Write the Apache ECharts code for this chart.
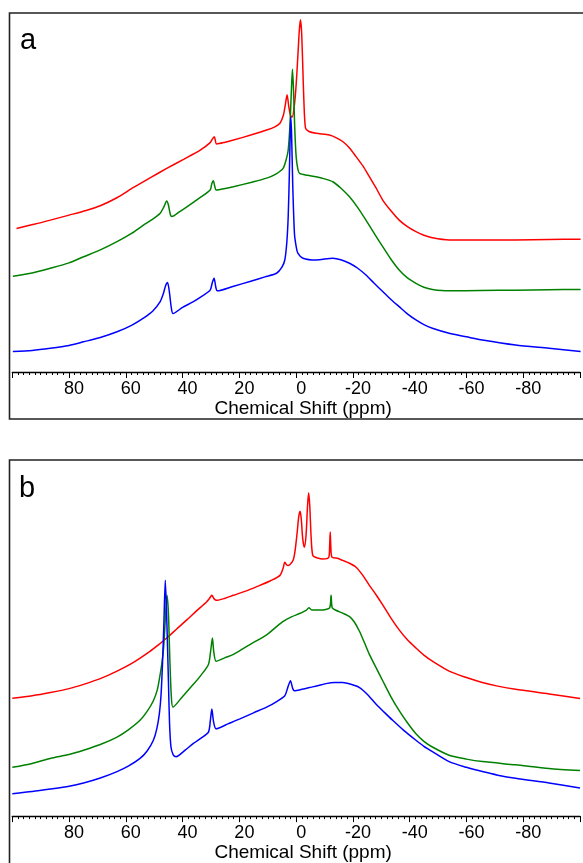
<!DOCTYPE html>
<html>
<head>
<meta charset="utf-8">
<script src="https://cdn.jsdelivr.net/npm/echarts@6/dist/echarts.min.js"></script>
<style>
  html, body { margin: 0; padding: 0; background: #fff; }
  #chart { width: 583px; height: 863px; }
</style>
</head>
<body>
<div id="chart"></div>
<script>
// Chemical shift (ppm) vs intensity (arbitrary units, 0-100 panel height)
const axisTitle = 'Chemical Shift (ppm)';
const panelLabels = ['a', 'b'];
const seriesColors = ['#ff0000', '#008000', '#0000ff'];

// Panel a
const redA = [[98.5,40.0],[92,41.2],[86.6,42.3],[80,43.7],[74,45.0],[69,46.3],[63,48.6],[57.3,51.4],[51,54.3],[45.6,56.7],[39.5,59.3],[33.8,61.8],[30.3,63.9],[29.4,65.0],[28.8,65.5],[28.0,63.5],[25,64.0],[22.1,64.6],[16,66.0],[10.4,67.4],[7.5,68.3],[5.7,69.3],[4.5,71.5],[3.8,74.5],[3.2,77.2],[2.6,74.0],[2.0,71.5],[1.4,71.0],[0.6,74.5],[0,80],[-0.6,88],[-1.1,95],[-1.5,98.1],[-1.9,95],[-2.3,86],[-2.7,76],[-3.3,67.9],[-4.5,67.0],[-7.0,66.5],[-11.7,66.0],[-14,65.3],[-16.4,64.2],[-18.8,62.4],[-21.1,60.0],[-23.5,57.4],[-25.8,54.4],[-28.2,51.2],[-30.5,47.9],[-33.4,44.9],[-36.3,42.3],[-39.2,40.5],[-42.2,39.1],[-45,38.1],[-48.0,37.4],[-53.9,36.8],[-65.6,36.8],[-77.3,36.8],[-89,36.9],[-100.2,37.0]];
const greenA = [[99.8,26.7],[93,27.6],[86.6,28.9],[80,30.4],[74.9,32.1],[69,34.0],[63.1,36.3],[58,38.6],[53.8,40.9],[50.5,42.6],[47.9,44.2],[46.6,46.0],[45.6,47.6],[45.0,46.5],[44.3,43.8],[43.8,43.3],[41,44.7],[38.5,46.0],[34,48.5],[30.3,50.7],[29.7,52.5],[29.2,53.3],[28.6,51.5],[28.2,50.7],[25,51.1],[22.1,51.6],[16,52.8],[10.4,54.0],[7,55.2],[4.6,56.7],[3.4,59.5],[2.8,61.8],[2.2,68.5],[1.7,78],[1.3,84.3],[0.9,78],[0.5,68],[0,60.0],[-0.6,56.5],[-1.2,55.3],[-4,54.8],[-7.0,54.4],[-10,53.8],[-12.9,53.0],[-15.8,51.2],[-18.8,48.8],[-21.7,45.8],[-24.6,42.3],[-27.5,38.6],[-30.5,34.9],[-33.4,31.4],[-36.3,28.4],[-39.2,26.2],[-42.2,24.7],[-45,23.6],[-48.0,23.0],[-53.9,22.6],[-65,22.7],[-77.3,22.8],[-89,22.9],[-100.2,23.0]];
const blueA = [[99.8,5.7],[93,6.0],[86.6,6.6],[80,7.4],[74.9,8.4],[69,9.6],[63.1,11.2],[58,13.0],[53.8,15.0],[50.5,17.0],[47.9,19.6],[46.8,21.8],[46.0,24.0],[45.3,24.9],[44.7,22.5],[44.0,18.0],[43.4,16.3],[40,18.0],[36.2,19.6],[33,21.2],[30.3,22.8],[29.5,25.0],[28.9,26.1],[28.3,23.6],[27.8,22.6],[22,23.9],[16.3,25.2],[11,26.5],[6.9,27.5],[5,29.2],[4.0,31.2],[3.3,36],[2.8,43.3],[2.4,55],[2.1,66],[1.9,71.1],[1.6,66],[1.2,52],[0.6,38.6],[0,35],[-0.6,33.1],[-2.4,31.7],[-7.0,31.2],[-12.9,31.7],[-16,31.2],[-18.8,30.3],[-21.7,28.9],[-24.6,27.0],[-27.5,24.7],[-30.5,22.4],[-33.4,20.2],[-36.3,18.2],[-39.2,16.2],[-42.2,14.5],[-45,13.2],[-48.0,12.2],[-53.9,10.8],[-60,9.8],[-65.6,8.9],[-77.3,7.5],[-89.1,6.6],[-100.2,5.7]];

// Panel b
const redB = [[100,33.1],[93,33.8],[86.6,34.7],[80,35.8],[74.9,37.0],[69,38.6],[63.1,40.7],[57,43.3],[51.4,46.3],[48.5,48.1],[45.6,50.0],[42,52.6],[38.5,55.1],[35,57.7],[31.5,60.2],[30.5,61.2],[29.7,62.0],[28.9,61.0],[28.0,60.6],[25,61.2],[22.1,62.0],[17,63.4],[12.8,64.8],[9,66.1],[5.7,67.6],[4.6,69.6],[4.0,71.3],[3.4,70.6],[2.8,70.4],[2.0,70.8],[1.0,72],[0.3,75],[-0.4,80],[-0.9,84],[-1.4,85.6],[-1.8,83.5],[-2.3,78],[-2.9,75.5],[-3.5,79],[-4.0,87],[-4.4,90.8],[-4.8,87],[-5.3,78],[-5.9,73.1],[-7.5,72.5],[-9.4,72.2],[-11.5,72.7],[-11.8,76],[-12.0,79.8],[-12.2,76],[-12.6,72.7],[-14.5,72.4],[-16.4,71.8],[-18.8,71.0],[-21.1,69.9],[-23.5,67.6],[-25.8,64.8],[-28.2,62.1],[-30.5,59.3],[-33.4,55.6],[-36.3,52.3],[-39.2,49.5],[-42.2,47.2],[-45,45.2],[-48.0,43.5],[-53.9,40.7],[-60,38.9],[-65.6,37.5],[-71,36.5],[-77.3,35.6],[-89.1,34.3],[-100,33.0]];
const greenB = [[100,13.7],[93,14.8],[86.6,16.2],[80,17.3],[74.9,18.5],[69,20.1],[63.1,22.2],[59,24.3],[55,26.9],[52.5,29.4],[50.3,32.4],[48.9,35.5],[47.9,39.8],[47.2,43.5],[46.7,47.2],[46.1,55],[45.5,62],[45.0,57],[44.5,44],[44.0,34],[43.4,30.6],[40,33.6],[36.2,37.0],[33.5,39.6],[30.9,42.6],[30.1,46.5],[29.5,50.0],[29.0,46.0],[28.2,43.5],[25,44.5],[22.1,45.4],[16,48.3],[10.4,50.9],[7.5,52.8],[4.7,54.6],[1.5,56.0],[-1.2,56.9],[-3.5,57.8],[-4.5,58.5],[-5.5,57.9],[-9.4,57.9],[-11.8,58.5],[-12.3,62.0],[-12.7,58.5],[-14,57.8],[-16.4,57.0],[-18.8,56.0],[-20.5,54.5],[-22.3,51.9],[-24,48.8],[-25.8,45.4],[-28.2,41.6],[-30.5,38.0],[-33.4,33.5],[-36.3,29.6],[-39.2,26.2],[-42.2,23.1],[-45,21.0],[-48.0,19.4],[-53.9,17.1],[-60,16.0],[-65.6,15.3],[-77.3,14.4],[-89.1,13.4],[-100,12.8]];
const blueB = [[100,6.3],[93,6.9],[86.6,7.6],[80,8.4],[74.9,9.3],[69,10.7],[63.1,12.5],[59,14.1],[55,16.2],[52.5,18.3],[50.3,21.3],[49.1,24.5],[48.2,28.7],[47.6,34],[47.1,42.6],[46.6,54],[46.1,66.2],[45.6,56],[45.0,38.0],[44.6,26],[44.1,19.4],[43.3,17.2],[42.3,16.7],[39,18.6],[36.2,20.4],[33.5,21.9],[30.9,23.6],[30.2,27],[29.7,30.1],[29.1,26.5],[28.2,24.5],[24,25.9],[19.8,27.3],[15,29.0],[10.4,30.6],[7,32.1],[4.0,33.8],[3.0,36],[2.0,38.0],[1.2,35.8],[0.6,35.2],[-2,35.6],[-4.7,36.1],[-7.5,36.6],[-10.5,37.2],[-13.5,37.5],[-16.4,37.5],[-19.3,37.0],[-22.3,36.1],[-25.2,34.1],[-28.1,31.5],[-31,29.2],[-34.0,26.9],[-38,24.0],[-42.2,21.3],[-45,19.6],[-48.0,18.1],[-53.9,15.3],[-60,13.7],[-65.6,12.5],[-71,11.5],[-77.3,10.6],[-89.1,9.3],[-100,7.9]];

const FONT = '"Liberation Sans", Arial, Helvetica, sans-serif';

function makeXAxis(gi) {
  return {
    type: 'value', gridIndex: gi, inverse: true, min: -100, max: 100, interval: 20,
    axisLine: { show: true, onZero: false, lineStyle: { color: '#000', width: 1.4 } },
    axisTick: { show: true, inside: false, length: 6, lineStyle: { color: '#000', width: 1 } },
    minorTick: { show: true, splitNumber: 10, length: 3, lineStyle: { color: '#000', width: 1 } },
    splitLine: { show: false }, minorSplitLine: { show: false },
    axisLabel: {
      show: true, margin: 8, color: '#000', fontSize: 18, fontFamily: FONT,
      padding: [0, 0, 0, 10],
      formatter: v => (Math.abs(v) === 100 ? '' : String(v))
    },
    name: axisTitle, nameLocation: 'middle', nameGap: 26,
    nameTextStyle: { color: '#000', fontSize: 19, fontFamily: FONT, padding: [0, 0, 0, 14] }
  };
}
function makeYAxis(gi) {
  return { type: 'value', gridIndex: gi, min: 0, max: 100, show: false };
}
function line(data, color, gi) {
  return {
    type: 'line', xAxisIndex: gi, yAxisIndex: gi, data: data, showSymbol: false,
    smooth: 0.25, lineStyle: { color: color, width: 1.5 }, itemStyle: { color: color }, z: 3
  };
}

const chart = echarts.init(document.getElementById('chart'), null, { renderer: 'canvas' });
chart.setOption({
  backgroundColor: '#fff',
  animation: false,
  grid: [
    { left: 12.3, top: 13, width: 569, height: 359 },
    { left: 12.3, top: 460, width: 569, height: 360 }
  ],
  xAxis: [makeXAxis(0), makeXAxis(1)],
  yAxis: [makeYAxis(0), makeYAxis(1)],
  series: [
    line(redA, seriesColors[0], 0), line(greenA, seriesColors[1], 0), line(blueA, seriesColors[2], 0),
    line(redB, seriesColors[0], 1), line(greenB, seriesColors[1], 1), line(blueB, seriesColors[2], 1)
  ],
  graphic: [
    { type: 'rect', shape: { x: 9.5, y: 13, width: 620, height: 406 }, style: { fill: 'none', stroke: '#222', lineWidth: 1.6 }, z: 1 },
    { type: 'rect', shape: { x: 9.5, y: 460, width: 620, height: 500 }, style: { fill: 'none', stroke: '#222', lineWidth: 1.6 }, z: 1 },
    { type: 'text', style: { text: panelLabels[0], x: 20, y: 26.5, font: '29px ' + FONT, fill: '#000' }, z: 5 },
    { type: 'text', style: { text: panelLabels[1], x: 19, y: 474.5, font: '29px ' + FONT, fill: '#000' }, z: 5 }
  ]
});
</script>
</body>
</html>
